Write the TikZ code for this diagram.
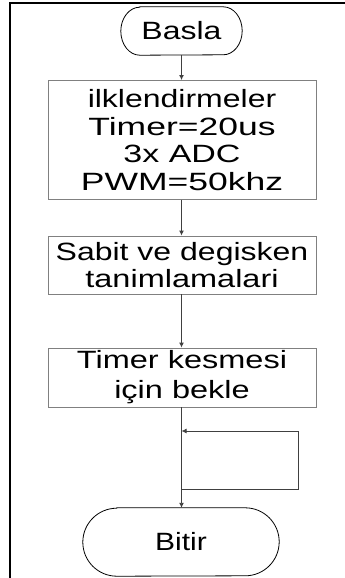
\documentclass[tikz,border=0pt]{standalone}
\usepackage{fontspec}
\setmainfont{Liberation Sans}
\usepackage{graphicx}
\usetikzlibrary{arrows.meta}
\newcommand{\hs}[2]{\scalebox{#1}[1]{#2}}
\begin{document}
\begin{tikzpicture}[x=1pt,y=-1pt,
  procbox/.style={draw=black!50, line width=0.9pt, minimum width=268pt, inner sep=0pt, align=center},
  termtext/.style={inner sep=0pt},
  termline/.style={draw=black, line width=0.8pt},
  flow/.style={draw=black!75, line width=0.9pt, -{Latex[length=5pt,width=5pt]}},
  plain/.style={draw=black!75, line width=0.9pt},
  txt/.style={font=\fontsize{25}{27.5}\selectfont}
]
\useasboundingbox (0,0) rectangle (345,578);
% frame
\draw[line width=2.6pt] (10,578) -- (10,3) -- (345,3);
% start terminal
\node[termtext, minimum width=121pt, minimum height=48pt, txt] (start) at (181.5,31) {\hs{1.28}{Basla}};
\draw[termline] ([xshift=19pt]start.north west) -- ([xshift=-19pt]start.north east)
  arc[start angle=90, end angle=-90, x radius=19pt, y radius=24pt]
  -- ([xshift=19pt]start.south west)
  arc[start angle=270, end angle=90, x radius=19pt, y radius=24pt] -- cycle;
% boxes
\node[procbox, minimum height=119pt, txt] (init) at (182,140)
  {\hs{1.28}{ilklendirmeler}\\\hs{1.42}{Timer=20us}\\\hs{1.36}{3x ADC}\\\hs{1.42}{PWM=50khz}};
\node[procbox, minimum height=58pt, txt] (decl) at (182,265)
  {\hs{1.28}{Sabit ve degisken}\\\hs{1.3}{tanimlamalari}};
\node[procbox, minimum height=59pt, font=\fontsize{25}{30}\selectfont] (wait) at (182,377.5)
  {\hs{1.3}{Timer kesmesi}\\\hs{1.3}{için bekle}};
% end terminal
\node[termtext, minimum width=196pt, minimum height=68pt, font=\fontsize{25}{30}\selectfont] (stop) at (181,542) {\hs{1.2}{Bitir}};
\draw[termline] ([xshift=34pt]stop.north west) -- ([xshift=-34pt]stop.north east)
  arc[start angle=90, end angle=-90, x radius=34pt, y radius=34pt]
  -- ([xshift=34pt]stop.south west)
  arc[start angle=270, end angle=90, x radius=34pt, y radius=34pt] -- cycle;
% connectors
\draw[flow] (start.south) -- (init.north -| start.south);
\draw[flow] (init.south -| start.south) -- (decl.north -| start.south);
\draw[flow] (decl.south -| start.south) -- (wait.north -| start.south);
\draw[flow] (wait.south -| start.south) -- (stop.north -| start.south);
% loop
\coordinate (loopfrom) at (181.5,489);
\coordinate (loopto) at (181.5,431);
\coordinate (loopc1) at (298,489);
\coordinate (loopc2) at (298,431);
\draw[plain] (loopfrom) -- (loopc1) -- (loopc2);
\draw[flow] (loopc2) -- (loopto);
\end{tikzpicture}
\end{document}
